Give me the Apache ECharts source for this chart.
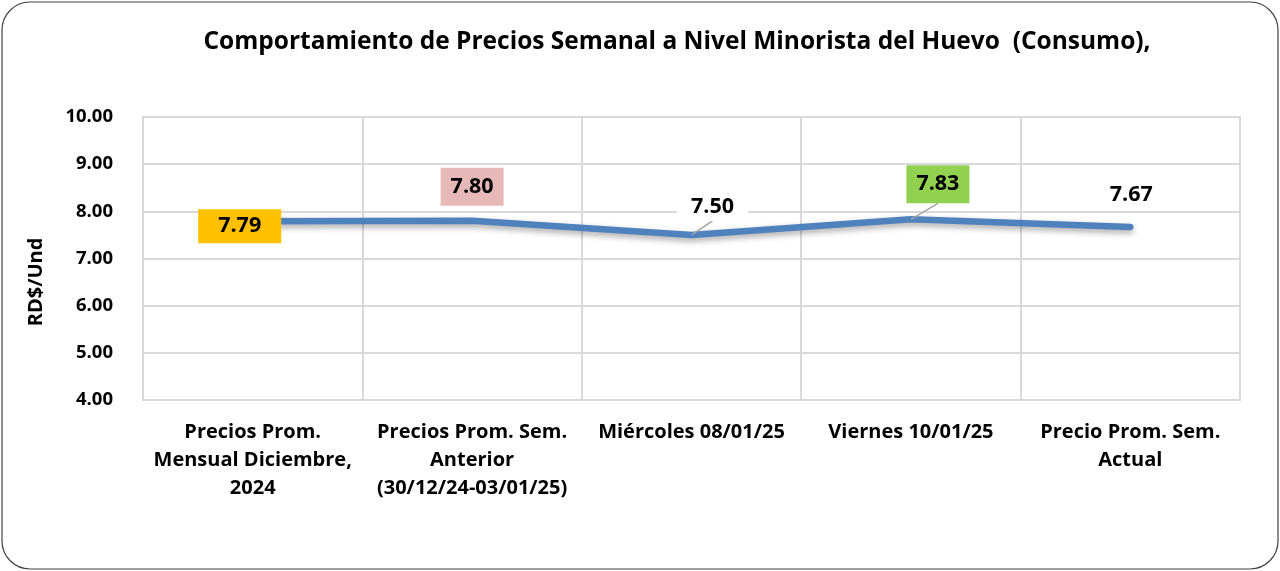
<!DOCTYPE html>
<html><head><meta charset="utf-8">
<script src="https://cdn.jsdelivr.net/npm/echarts@6/dist/echarts.min.js"></script>
<style>html,body{margin:0;padding:0;background:#fff}#c{width:1280px;height:571px}</style>
</head><body><div id="c"></div>
<script>
const categories = ['Precios Prom.\nMensual Diciembre,\n2024','Precios Prom. Sem.\nAnterior\n(30/12/24-03/01/25)','Miércoles 08/01/25','Viernes 10/01/25','Precio Prom. Sem.\nActual'];
const values = [7.79, 7.80, 7.50, 7.83, 7.67];
const labelColors = ['#FFC000','#E6B8B7','#FFFFFF','#92D050','#FFFFFF'];
const FONT = 'Open Sans';

const chart = echarts.init(document.getElementById('c'), null, {renderer:'canvas'});
const labelOffsets = [[-13,5],[0,-34],[21,-28],[27,-35],[1,-32]];
const paddings = [[6,20],[8,10],[3,14],[8,10],[3,12]];
const showLeader = [false,false,true,true,false];

chart.setOption({
  animation:false,
  title:{text:'Comportamiento de Precios Semanal a Nivel Minorista del Huevo  (Consumo),',left:672,textAlign:'center',top:25,
    textStyle:{fontFamily:FONT,fontWeight:'bold',fontSize:24.5,color:'#000'}},
  graphic:[{type:'rect',shape:{x:2,y:2,width:1276,height:567,r:28},style:{fill:'none',stroke:'#404040',lineWidth:1.2},z:-1}],
  grid:{left:143,right:40,top:117,bottom:171,show:true,borderColor:'#D9D9D9',borderWidth:2},
  xAxis:{type:'category',data:categories,boundaryGap:true,
    axisLine:{show:false},axisTick:{show:false},
    splitLine:{show:true,lineStyle:{color:'#D9D9D9',width:2}},
    axisLabel:{interval:0,margin:18,fontFamily:FONT,fontWeight:'bold',fontSize:20,color:'#000',lineHeight:28}},
  yAxis:{type:'value',min:4,max:10,interval:1,
    name:'RD$/Und',nameLocation:'middle',nameGap:97,nameRotate:90,
    nameTextStyle:{fontFamily:FONT,fontWeight:'bold',fontSize:20,color:'#000',padding:[0,47,0,0]},
    axisLine:{show:false},axisTick:{show:false},
    splitLine:{lineStyle:{color:'#D9D9D9',width:2}},
    axisLabel:{formatter:v=>v.toFixed(2),margin:30,fontFamily:FONT,fontWeight:'bold',fontSize:18.5,color:'#000'}},
  series:[{type:'line',data:values.map((v,i)=>({value:v,
      label:{backgroundColor:labelColors[i],padding:paddings[i]},
      labelLine:{show:showLeader[i]}})),
    symbol:'circle',symbolSize:1,showSymbol:true,itemStyle:{color:'rgba(0,0,0,0)'},
    lineStyle:{color:'#4F81BD',width:6.5,cap:'round',join:'round',shadowColor:'rgba(0,0,0,0.35)',shadowBlur:6,shadowOffsetY:3},
    label:{show:true,position:'inside',formatter:p=>p.value.toFixed(2),fontFamily:FONT,fontWeight:'bold',fontSize:21.5,color:'#000'},
    labelLine:{show:false,lineStyle:{color:'#A6A6A6',width:1.5}},
    labelLayout:function(p){const o=labelOffsets[p.dataIndex];return {dx:o[0],dy:o[1]};}
  }]
});
</script></body></html>
